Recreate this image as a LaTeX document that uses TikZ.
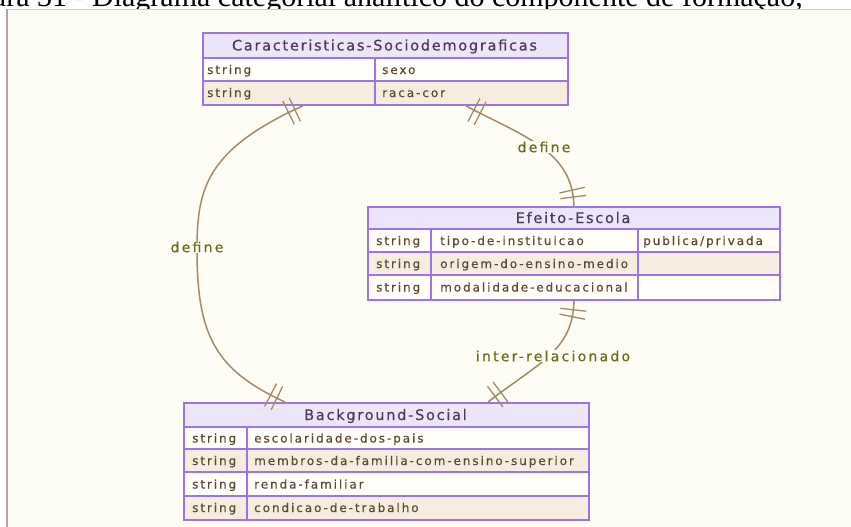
\documentclass[tikz,border=0pt]{standalone}
\usepackage{fontspec}
\usetikzlibrary{decorations.markings}
\newfontfamily\hdrfont[LetterSpace=12,FakeBold=0.4]{DejaVu Sans}
\newfontfamily\fldfont[LetterSpace=16,FakeBold=0.4]{DejaVu Sans}
\newfontfamily\lblfont[LetterSpace=16,FakeBold=0.4]{DejaVu Sans}
\newfontfamily\capfont{Liberation Serif}
\definecolor{cream}{HTML}{FDFCF5}
\definecolor{panelL}{HTML}{BF9CA2}
\definecolor{panelT}{HTML}{E3C9C2}
\definecolor{hdrfill}{HTML}{EDE5FA}
\definecolor{beige}{HTML}{F6EDE0}
\definecolor{rowwhite}{HTML}{FFFEFB}
\definecolor{erpurple}{HTML}{9D74E8}
\definecolor{conncol}{HTML}{A48B66}
\definecolor{lblcol}{HTML}{6A6A1C}
\definecolor{hdrcol}{HTML}{4B3A5A}
\definecolor{fldcol}{HTML}{5B4A2F}
\begin{document}
\begin{tikzpicture}[x=1pt,y=-1pt,
  frame/.style={draw=erpurple, line width=1.8pt, inner sep=0pt, anchor=north west},
  grid/.style={draw=erpurple, line width=1.5pt},
  hdr/.style={font=\hdrfont\fontsize{14.5}{16}\selectfont, text=hdrcol, inner sep=0pt, anchor=base},
  fld/.style={font=\fldfont\fontsize{12}{14}\selectfont, text=fldcol, inner sep=0pt, anchor=base west},
  lbl/.style={font=\lblfont\fontsize{14}{16}\selectfont, text=lblcol, fill=cream, inner sep=1pt},
  conn/.style={draw=conncol, line width=1.5pt},
  bar/.style={draw=conncol, line width=1.3pt},
  erbars/.style={postaction={decorate, decoration={markings,
     mark=at position 9pt with {\draw[bar] (0pt,-13pt) -- (0pt,13pt);},
     mark=at position 16pt with {\draw[bar] (0pt,-13pt) -- (0pt,13pt);},
     mark=at position -9pt with {\draw[bar] (0pt,-13pt) -- (0pt,13pt);},
     mark=at position -16pt with {\draw[bar] (0pt,-13pt) -- (0pt,13pt);}}}}
]
\useasboundingbox (0,0) rectangle (851,527);
\clip (0,0) rectangle (851,527);
\fill[white] (0,0) rectangle (851,527);
% caption (cut off at the top)
\node[anchor=base west, inner sep=0pt, font=\capfont\fontsize{30}{34}\selectfont] (cap) at (92,7) {\llap{Figura 31 - }Diagrama categorial analítico do componente de formação,};
% panel
\fill[cream] (7,10) rectangle (851,527);
\draw[panelT, line width=1pt] (7,10) -- (851,10);
\draw[panelL, line width=2.5pt] (7,9.5) -- (7,527);

% ---------- Caracteristicas-Sociodemograficas ----------
\fill[hdrfill] (202,32) rectangle (567,58);
\fill[rowwhite] (202,58) rectangle (567,81);
\fill[beige] (202,81) rectangle (567,104);
\draw[grid] (202,58) -- (567,58) (202,81) -- (567,81) (375,58) -- (375,104);
\node[frame, minimum width=365pt, minimum height=72pt] (cs) at (202,32) {};
\node[hdr] (csh) at (384.5,50.5) {Caracteristicas-Sociodemograficas};
\node[fld] (cs1a) at (207,74) {string};
\node[fld] (cs1b) at (382,74) {sexo};
\node[fld] (cs2a) at (207,97) {string};
\node[fld] (cs2b) at (382,97) {raca-cor};

% ---------- Efeito-Escola ----------
\fill[hdrfill] (367,206) rectangle (779,229);
\fill[rowwhite] (367,229) rectangle (779,252);
\fill[beige] (367,252) rectangle (779,275);
\fill[rowwhite] (367,275) rectangle (779,299);
\draw[grid] (367,229) -- (779,229) (367,252) -- (779,252) (367,275) -- (779,275)
  (431,229) -- (431,299) (638,229) -- (638,299);
\node[frame, minimum width=412pt, minimum height=93pt] (ef) at (367,206) {};
\node[hdr] (efh) at (573,223) {Efeito-Escola};
\node[fld] (ef1a) at (376,245) {string};
\node[fld] (ef1b) at (440,245) {tipo-de-instituicao};
\node[fld] (ef1c) at (643,245) {publica/privada};
\node[fld] (ef2a) at (376,268) {string};
\node[fld] (ef2b) at (440,268) {origem-do-ensino-medio};
\node[fld] (ef3a) at (376,291.5) {string};
\node[fld] (ef3b) at (440,291.5) {modalidade-educacional};

% ---------- Background-Social ----------
\fill[hdrfill] (183,402) rectangle (588,427);
\fill[rowwhite] (183,427) rectangle (588,449);
\fill[beige] (183,449) rectangle (588,472);
\fill[rowwhite] (183,472) rectangle (588,496);
\fill[beige] (183,496) rectangle (588,519);
\draw[grid] (183,427) -- (588,427) (183,449) -- (588,449) (183,472) -- (588,472) (183,496) -- (588,496)
  (247,427) -- (247,519);
\node[frame, minimum width=405pt, minimum height=117pt] (bg) at (183,402) {};
\node[hdr] (bgh) at (385.5,420) {Background-Social};
\node[fld] (bg1a) at (192,442.5) {string};
\node[fld] (bg1b) at (254,442.5) {escolaridade-dos-pais};
\node[fld] (bg2a) at (192,465) {string};
\node[fld] (bg2b) at (254,465) {membros-da-familia-com-ensino-superior};
\node[fld] (bg3a) at (192,488.5) {string};
\node[fld] (bg3b) at (254,488.5) {renda-familiar};
\node[fld] (bg4a) at (192,512) {string};
\node[fld] (bg4b) at (254,512) {condicao-de-trabalho};

% ---------- connectors ----------
\draw[conn, erbars] ([xshift=101pt]cs.south west) .. controls (205,150) and (197,190) .. (197,250)
  .. controls (197,335) and (215,370) .. ([xshift=102pt]bg.north west);
\draw[conn, erbars] ([xshift=264pt]cs.south west) .. controls (520,135) and (573,150) .. (ef.north);
\draw[conn, erbars] (ef.south) .. controls (573,350) and (540,362) .. ([xshift=305pt]bg.north west);
\node[lbl] (l1) at (197,247) {define};
\node[lbl] (l2) at (544,147) {define};
\node[lbl] (l3) at (553,356) {inter-relacionado};
\end{tikzpicture}
\end{document}
